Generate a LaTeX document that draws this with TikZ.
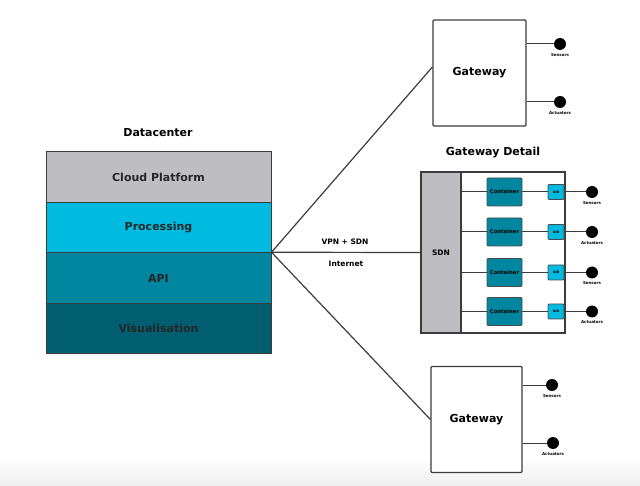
\documentclass[tikz,border=0pt]{standalone}
\usepackage{fontspec}
\setmainfont{DejaVu Sans}
\usetikzlibrary{positioning}
\definecolor{cloudgray}{HTML}{BEBEC2}
\definecolor{proccyan}{HTML}{00BAE0}
\definecolor{apiteal}{HTML}{00869E}
\definecolor{visteal}{HTML}{005E70}
\definecolor{edgegray}{HTML}{3C3C3C}
\tikzset{
        layer box/.style={
		draw=edgegray,
		line width=1pt,
		minimum width=225pt,
		minimum height=50.5pt,
		text=black!85,
		font=\bfseries\fontsize{11}{13}\selectfont,
	  },
        gateway box/.style={
		draw=edgegray,
		line width=1.2pt,
		rounded corners=1pt,
		fill=white,
		minimum width=#1,
		minimum height=106pt,
		font=\bfseries\fontsize{11}{13}\selectfont,
	  },
        container box/.style={
		draw=black!70,
		line width=0.8pt,
		rounded corners=1pt,
		fill=apiteal,
		minimum width=35pt,
		minimum height=28pt,
		inner sep=0pt,
		font=\bfseries\fontsize{5.3}{6}\selectfont,
	  },
        iob box/.style={
		draw=black!70,
		line width=0.8pt,
		rounded corners=1pt,
		fill=proccyan,
		minimum width=16pt,
		minimum height=15pt,
		inner sep=0pt,
		font=\bfseries\fontsize{3.5}{4}\selectfont,
	  },
        dot/.style={
		circle,
		fill=black,
		inner sep=0pt,
		minimum size=12pt,
	  },
        tiny label/.style={
		inner sep=0pt,
		font=\bfseries\fontsize{4}{5}\selectfont,
	  },
        title label/.style={
		font=\bfseries\fontsize{11}{13}\selectfont,
	  },
        link label/.style={
		font=\bfseries\fontsize{7.5}{9}\selectfont,
	  },
        wire/.style={
		draw=edgegray,
		line width=1pt,
	  },
  	}

\begin{document}
\begin{tikzpicture}[x=1pt, y=-1pt, node distance=-1pt]
    \useasboundingbox (0,0) rectangle (640,486);
    \shade[top color=white, bottom color=gray!13] (0,456) rectangle (640,486);
    % datacenter
    \node [title label] (dctitle) at (158,133) {Datacenter};
    \node [layer box, fill=cloudgray] (cloud) at (158.5,177) {Cloud Platform};
    \node [layer box, fill=proccyan, below=of cloud] (proc) {Processing};
    \node [layer box, fill=apiteal, below=of proc] (api) {API};
    \node [layer box, fill=visteal, below=of api] (vis) {Visualisation};
    \coordinate (hub) at (api.north east);
    % gateways
    \node [gateway box=93pt] (gw1) at (479.5,73) {Gateway};
    \node [gateway box=91pt] (gw2) at (476.5,419.5) {Gateway};
    \node [dot] (gw1s) at (560,44) {};
    \node [dot] (gw1a) at (560,102) {};
    \node [dot] (gw2s) at (552,385) {};
    \node [dot] (gw2a) at (553,443) {};
    \node [tiny label, below=3pt of gw1s] {Sensors};
    \node [tiny label, below=3pt of gw1a] {Actuators};
    \node [tiny label, below=3pt of gw2s] {Sensors};
    \node [tiny label, below=3pt of gw2a] {Actuators};
    \draw [wire] (gw1.east |- gw1s) -- (gw1s);
    \draw [wire] (gw1.east |- gw1a) -- (gw1a);
    \draw [wire] (gw2.east |- gw2s) -- (gw2s);
    \draw [wire] (gw2.east |- gw2a) -- (gw2a);
    % gateway detail
    \node [title label] (gdtitle) at (493,153) {Gateway Detail};
    \node [draw=edgegray, line width=1.2pt, minimum width=144pt, minimum height=161pt] (detail) at (493,252.5) {};
    \node [draw=edgegray, line width=1.2pt, fill=cloudgray, minimum width=40pt, minimum height=161pt,
           anchor=west, font=\bfseries\fontsize{7.5}{9}\selectfont] (sdn) at (detail.west) {SDN};
    \node [container box] (c1) at (504.5,192) {Container};
    \node [container box] (c2) at (504.5,232) {Container};
    \node [container box] (c3) at (504.5,272.5) {Container};
    \node [container box] (c4) at (504.5,311.5) {Container};
    \node [iob box] (i1) at (556,192) {IoB};
    \node [iob box] (i2) at (556,232) {IoB};
    \node [iob box] (i3) at (556,272.5) {IoB};
    \node [iob box] (i4) at (556,311.5) {IoB};
    \node [dot] (d1) at (592,192) {};
    \node [dot] (d2) at (592,232) {};
    \node [dot] (d3) at (592,272.5) {};
    \node [dot] (d4) at (592,311.5) {};
    \node [tiny label, below=3pt of d1] {Sensors};
    \node [tiny label, below=3pt of d2] {Actuators};
    \node [tiny label, below=3pt of d3] {Sensors};
    \node [tiny label, below=3pt of d4] {Actuators};
    \draw [wire] (sdn.east |- c1) -- (c1) -- (i1) -- (d1);
    \draw [wire] (sdn.east |- c2) -- (c2) -- (i2) -- (d2);
    \draw [wire] (sdn.east |- c3) -- (c3) -- (i3) -- (d3);
    \draw [wire] (sdn.east |- c4) -- (c4) -- (i4) -- (d4);
    % links
    \draw [wire, line width=1.2pt] (hub) -- ([yshift=6pt]gw1.west);
    \draw [wire, line width=1.2pt] (hub) -- (sdn.west);
    \draw [wire, line width=1.2pt] (hub) -- (gw2.west);
    \node [link label] (vpn) at (345,242) {VPN + SDN};
    \node [link label] (inet) at (346,264) {Internet};
  \end{tikzpicture}
\end{document}
